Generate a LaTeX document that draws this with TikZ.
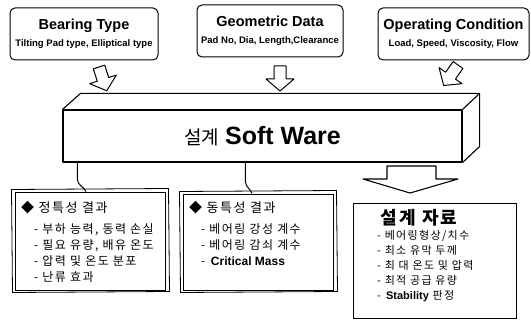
\documentclass[tikz,border=0pt]{standalone}
\usepackage{fontspec}
\setmainfont{Liberation Sans}
\newfontfamily\kr{Noto Sans CJK KR}
\newfontfamily\krs[LetterSpace=12]{Noto Sans CJK KR}
\usetikzlibrary{positioning,calc,backgrounds}

\begin{document}
\begin{tikzpicture}[
  x=1pt, y=-1pt,
  inbox/.style  = {draw, rounded corners=5pt, line width=1pt,
                   align=center, inner sep=0pt, minimum height=52pt},
  sheet/.style  = {draw, line width=1pt, fill=white,
                   minimum width=150pt, inner sep=0pt},
  outbox/.style = {draw, line width=1pt, minimum width=163pt,
                   minimum height=115pt, inner sep=0pt},
  txt/.style    = {anchor=north west, align=left, inner sep=0pt,
                   font=\krs\fontsize{12}{16}\selectfont},
  wire/.style   = {line width=1pt},
  bar/.style    = {line width=1.1pt, line join=round},
  hollowarrow/.pic = {\draw[line width=1pt, line join=round]
      (-6,0) -- (-6,13) -- (-14,13) -- (0,25) -- (14,13)
      -- (6,13) -- (6,0) -- cycle;}
]
\useasboundingbox (0,0) rectangle (531,321);

% input boxes
\node[inbox, minimum width=148pt] (btype) at (84,34)
  {{\fontsize{14.5}{17}\selectfont\bfseries Bearing Type}\\[5pt]
   {\fontsize{9.5}{11}\selectfont\bfseries Tilting Pad type, Elliptical type}};
\node[inbox, minimum width=146pt] (geom) at (270,31)
  {{\fontsize{14.5}{17}\selectfont\bfseries Geometric Data}\\[5pt]
   {\fontsize{9.5}{11}\selectfont\bfseries Pad No, Dia, Length,Clearance}};
\node[inbox, minimum width=151pt] (opcond) at (453.5,34)
  {{\fontsize{14.5}{17}\selectfont\bfseries Operating Condition}\\[5pt]
   {\fontsize{9.5}{11}\selectfont\bfseries Load, Speed, Viscosity, Flow}};

\pic[rotate=18]  at (99,67)  {hollowarrow};
\pic             at (280,66) {hollowarrow};
\pic[rotate=-35] at (458,65) {hollowarrow};

% software block
\node[draw, bar, minimum width=399pt, minimum height=52pt, inner sep=0pt]
  (sw) at (262.5,136)
  {{\kr\fontsize{19}{20}\selectfont 설계}\hspace{6pt}{\fontsize{25}{26}\selectfont\bfseries Soft Ware}};
\draw[bar] (sw.north west) -- ++(18,-16) -- ($(sw.north east)+(17,-16)$)
  -- ($(sw.south east)+(17,-16)$) -- (sw.south east);
\draw[bar] (sw.north east) -- ++(17,-16);

% result sheets
\node[sheet, minimum height=98pt] (stat) at (90,241) {};
\node[sheet, minimum height=96pt] (dyn)  at (258,242) {};
\begin{scope}[on background layer]
\draw[line width=0.8pt] ([shift={(-3,-2)}]stat.north west) -- ([shift={(3,-3)}]stat.north east)
  -- ([shift={(4,1)}]stat.south east) -- ([shift={(-2,2)}]stat.south west) -- cycle;
\draw[line width=0.8pt] ([shift={(-3,-2)}]dyn.north west) -- ([shift={(3,-3)}]dyn.north east)
  -- ([shift={(4,1)}]dyn.south east) -- ([shift={(-2,2)}]dyn.south west) -- cycle;
\end{scope}
\draw[wire] ([xshift=15pt]sw.south west) -- ++(0,17)
  to[out=-90,in=115] ([xshift=-4pt]stat.north);
\draw[wire] ([xshift=183pt]sw.south west) -- ++(0,19)
  to[out=-90,in=110] ([xshift=-6pt]dyn.north);

\node[txt, font=\krs\fontsize{13}{16}\selectfont] (stathead) at (21,201) {◆ 정특성 결과};
\node[txt] (statlist) at (34,223.5)
  {- 부하 능력, 동력 손실\\ - 필요 유량, 배유 온도\\
   - 압력 및 온도 분포\\ - 난류 효과};
\node[txt, font=\krs\fontsize{13}{16}\selectfont] (dynhead) at (189,201) {◆ 동특성 결과};
\node[txt] (dynlist) at (201,223.5)
  {- 베어링 강성 계수\\ - 베어링 감쇠 계수\\
   - \textbf{\rmfamily Critical Mass}};

% design data
\draw[bar] (387,166) -- (387,179) -- (363,179) -- (410,193) -- (458,179)
  -- (436,179) -- (436,166) -- cycle;
\node[outbox] (data) at (434.5,260.5) {};
\node[font=\krs\fontsize{18}{20}\selectfont\bfseries] (datatitle) at (419,218) {설계 자료};
\node[txt, font=\krs\fontsize{11}{15}\selectfont] (datalist) at (377,230)
  {- 베어링형상/치수\\ - 최소 유막 두께\\ - 최 대 온도 및 압력\\
   - 최적 공급 유량\\ - \textbf{\rmfamily Stability} 판정};
\end{tikzpicture}
\end{document}
